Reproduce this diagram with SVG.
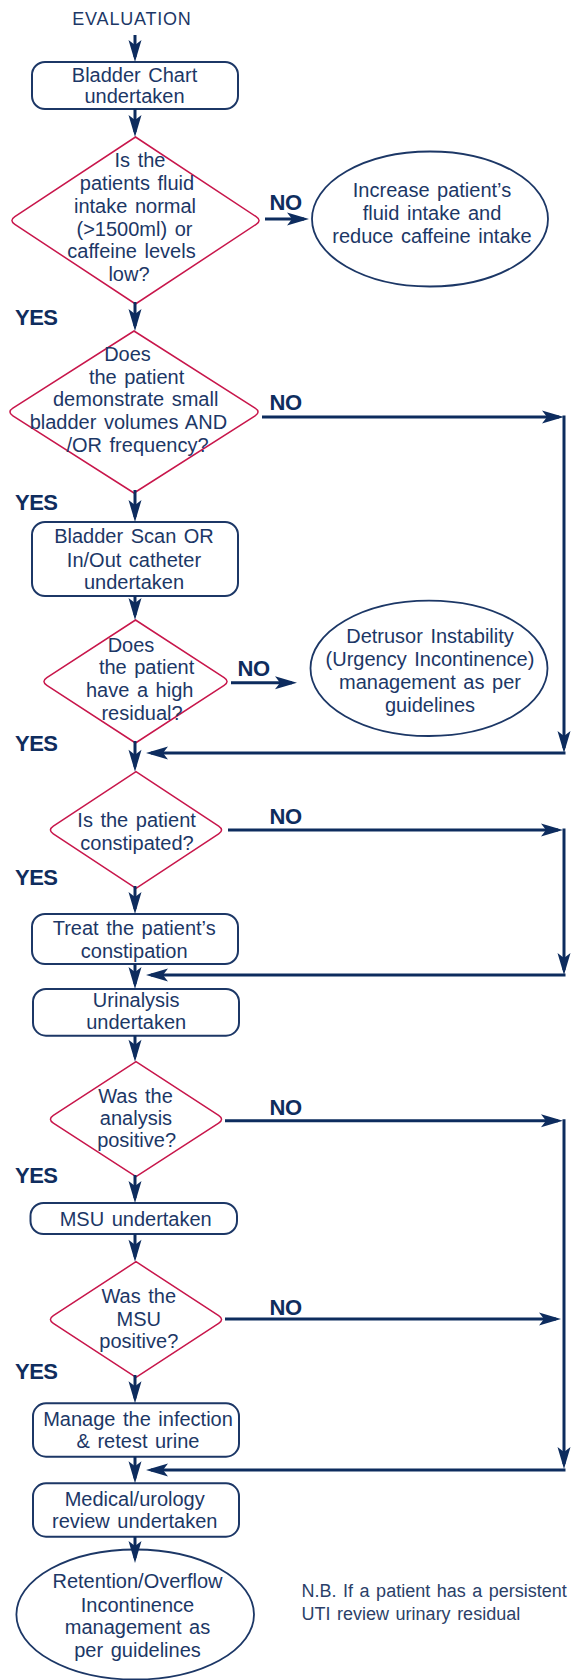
<svg xmlns="http://www.w3.org/2000/svg" width="571" height="1680" viewBox="0 0 571 1680">
<style>
.t{font-family:"Liberation Sans",Arial,sans-serif;font-size:20px;fill:#1c3766;text-anchor:middle;word-spacing:2px}
.ev{font-family:"Liberation Sans",Arial,sans-serif;font-size:18px;fill:#1c3766;text-anchor:middle;letter-spacing:0.8px}
.nb{font-family:"Liberation Sans",Arial,sans-serif;font-size:18px;fill:#2b3f68;word-spacing:1.5px}
.lbl{font-family:"Liberation Sans",Arial,sans-serif;font-size:22px;font-weight:bold;fill:#0f2d5e;letter-spacing:-0.5px}
.box{fill:#fff;stroke:#1c3766;stroke-width:2}
.dia{fill:#fff;stroke:#c8164b;stroke-width:1.5}
.ell{fill:#fff;stroke:#1c3766;stroke-width:1.8}
.con{stroke:#0d2c5e;stroke-width:3;fill:none;marker-end:url(#ah)}
.ln{stroke:#0d2c5e;stroke-width:3;fill:none}
</style>
<defs>
<marker id="ah" viewBox="-23 -7 25 14" refX="-5" refY="0" markerWidth="25" markerHeight="14" markerUnits="userSpaceOnUse" orient="auto">
<path d="M0,0 L-22,-6.5 L-17,0 L-22,6.5 Z" fill="#0d2c5e"/>
</marker>
</defs>
<rect width="571" height="1680" fill="#fff"/>

<g id="evaluation"><text class="ev" x="132" y="25">EVALUATION</text></g>

<g id="b1">
<rect class="box" x="32" y="62" width="206" height="47" rx="13"/>
<text class="t" x="134.5" y="81.7">Bladder Chart</text>
<text class="t" x="134.5" y="102.7">undertaken</text>
</g>

<g id="d1">
<path class="dia" d="M135.5,137 L256.16,216.64 Q262,220.5 256.16,224.36 L135.5,304 L14.84,224.36 Q9,220.5 14.84,216.64 Z"/>
<text class="t" x="140" y="166.7">Is the</text>
<text class="t" x="137" y="190">patients fluid</text>
<text class="t" x="135" y="212.5">intake normal</text>
<text class="t" x="134.5" y="235.7">(&gt;1500ml) or</text>
<text class="t" x="131.5" y="258.3">caffeine levels</text>
<text class="t" x="129" y="281">low?</text>
</g>

<g id="e1">
<ellipse class="ell" cx="430" cy="219" rx="118" ry="67.5"/>
<text class="t" x="432" y="197">Increase patient’s</text>
<text class="t" x="432" y="220">fluid intake and</text>
<text class="t" x="432" y="242.7">reduce caffeine intake</text>
</g>

<g id="d2">
<path class="dia" d="M134,331 L255.1,408.23 Q261,412 255.1,415.77 L134,493 L12.9,415.77 Q7,412 12.9,408.23 Z"/>
<text class="t" x="127.5" y="360.7">Does</text>
<text class="t" x="136.6" y="384">the patient</text>
<text class="t" x="135.7" y="406.3">demonstrate small</text>
<text class="t" x="128.4" y="429">bladder volumes AND</text>
<text class="t" x="137.5" y="451.7">/OR frequency?</text>
</g>

<g id="b2">
<rect class="box" x="32" y="522" width="206" height="74" rx="13"/>
<text class="t" x="134" y="543.3">Bladder Scan OR</text>
<text class="t" x="134" y="566.5">In/Out catheter</text>
<text class="t" x="134" y="589.3">undertaken</text>
</g>

<g id="d3">
<path class="dia" d="M135.5,620 L224.13,677.68 Q230,681.5 224.13,685.32 L135.5,743 L46.87,685.32 Q41,681.5 46.87,677.68 Z"/>
<text class="t" x="131" y="651.7">Does</text>
<text class="t" x="146.6" y="673.5">the patient</text>
<text class="t" x="139.7" y="696.7">have a high</text>
<text class="t" x="142" y="720">residual?</text>
</g>

<g id="e2">
<ellipse class="ell" cx="429" cy="668.3" rx="118.5" ry="67.7"/>
<text class="t" x="430" y="643">Detrusor Instability</text>
<text class="t" x="430" y="666">(Urgency Incontinence)</text>
<text class="t" x="430" y="689.3">management as per</text>
<text class="t" x="430" y="711.7">guidelines</text>
</g>

<g id="d4">
<path class="dia" d="M136,771.7 L218.66,826.15 Q224.5,830 218.66,833.85 L136,888.3 L53.34,833.85 Q47.5,830 53.34,826.15 Z"/>
<text class="t" x="136.6" y="826.7">Is the patient</text>
<text class="t" x="137" y="850">constipated?</text>
</g>

<g id="b3">
<rect class="box" x="32" y="914" width="206" height="50" rx="13"/>
<text class="t" x="134.2" y="935">Treat the patient’s</text>
<text class="t" x="134.2" y="957.7">constipation</text>
</g>

<g id="b4">
<rect class="box" x="33" y="989" width="206" height="46.7" rx="13"/>
<text class="t" x="136.2" y="1006.7">Urinalysis</text>
<text class="t" x="136.2" y="1029.3">undertaken</text>
</g>

<g id="d5">
<path class="dia" d="M136,1061.7 L218.63,1115.38 Q224.5,1119.2 218.63,1123.02 L136,1176.7 L53.37,1123.02 Q47.5,1119.2 53.37,1115.38 Z"/>
<text class="t" x="135.5" y="1103.3">Was the</text>
<text class="t" x="136" y="1125">analysis</text>
<text class="t" x="136.6" y="1147.3">positive?</text>
</g>

<g id="b5">
<rect class="box" x="30.5" y="1203" width="206.5" height="31" rx="13"/>
<text class="t" x="135.7" y="1226">MSU undertaken</text>
</g>

<g id="d6">
<path class="dia" d="M136,1261.7 L218.65,1315.67 Q224.5,1319.5 218.65,1323.33 L136,1377.3 L53.35,1323.33 Q47.5,1319.5 53.35,1315.67 Z"/>
<text class="t" x="138.8" y="1303.3">Was the</text>
<text class="t" x="138.8" y="1325.7">MSU</text>
<text class="t" x="138.8" y="1348">positive?</text>
</g>

<g id="b6">
<rect class="box" x="33" y="1403.3" width="206" height="53.4" rx="13"/>
<text class="t" x="138" y="1426">Manage the infection</text>
<text class="t" x="138" y="1448.3">&amp; retest urine</text>
</g>

<g id="b7">
<rect class="box" x="33" y="1483.3" width="206" height="53.4" rx="13"/>
<text class="t" x="134.7" y="1505.7">Medical/urology</text>
<text class="t" x="134.7" y="1528.3">review undertaken</text>
</g>

<g id="e3">
<ellipse class="ell" cx="135.2" cy="1614.5" rx="118.8" ry="65"/>
<text class="t" x="137.5" y="1588.3">Retention/Overflow</text>
<text class="t" x="137.5" y="1611.7">Incontinence</text>
<text class="t" x="137.5" y="1634.3">management as</text>
<text class="t" x="137.5" y="1656.7">per guidelines</text>
</g>

<g id="note">
<text class="nb" x="301.6" y="1596.7">N.B. If a patient has a persistent</text>
<text class="nb" x="301.6" y="1620">UTI review urinary residual</text>
</g>

<g id="labels">
<text class="lbl" x="269.6" y="210">NO</text>
<text class="lbl" x="269.6" y="410">NO</text>
<text class="lbl" x="237.5" y="676">NO</text>
<text class="lbl" x="269.6" y="824.3">NO</text>
<text class="lbl" x="269.6" y="1115">NO</text>
<text class="lbl" x="269.6" y="1315">NO</text>
<text class="lbl" x="15" y="325">YES</text>
<text class="lbl" x="15" y="510">YES</text>
<text class="lbl" x="15" y="750.7">YES</text>
<text class="lbl" x="15" y="885">YES</text>
<text class="lbl" x="15" y="1183.3">YES</text>
<text class="lbl" x="15" y="1379.3">YES</text>
</g>

<g id="connectors">
<line class="con" x1="135" y1="35" x2="135" y2="57"/>
<line class="con" x1="135" y1="109" x2="135" y2="132"/>
<line class="con" x1="135" y1="302" x2="135" y2="326"/>
<line class="con" x1="135" y1="490" x2="135" y2="517"/>
<line class="con" x1="135" y1="596" x2="135" y2="615"/>
<line class="con" x1="135" y1="741" x2="135" y2="766.7"/>
<line class="con" x1="135" y1="886" x2="135" y2="909"/>
<line class="con" x1="135" y1="964" x2="135" y2="984"/>
<line class="con" x1="135" y1="1035.7" x2="135" y2="1056.7"/>
<line class="con" x1="135" y1="1175" x2="135" y2="1198"/>
<line class="con" x1="135" y1="1234" x2="135" y2="1256.7"/>
<line class="con" x1="135" y1="1375" x2="135" y2="1398.3"/>
<line class="con" x1="135" y1="1456.7" x2="135" y2="1478.3"/>
<line class="con" x1="135" y1="1536.7" x2="135" y2="1558"/>

<line class="con" x1="265" y1="219" x2="304" y2="219"/>

<line class="con" x1="262" y1="417" x2="559" y2="417"/>
<line class="con" x1="564" y1="415.5" x2="564" y2="748"/>
<line class="con" x1="565.5" y1="753" x2="151" y2="753"/>

<line class="con" x1="231" y1="682.7" x2="292" y2="682.7"/>

<line class="con" x1="228" y1="830" x2="558" y2="830"/>
<line class="con" x1="564" y1="828.5" x2="564" y2="970"/>
<line class="con" x1="565.5" y1="975" x2="151" y2="975"/>

<line class="con" x1="225" y1="1120.7" x2="558" y2="1120.7"/>
<line class="con" x1="564" y1="1119.2" x2="564" y2="1464"/>
<line class="con" x1="565.5" y1="1470" x2="151" y2="1470"/>

<line class="con" x1="225" y1="1319" x2="556" y2="1319"/>
</g>
</svg>
